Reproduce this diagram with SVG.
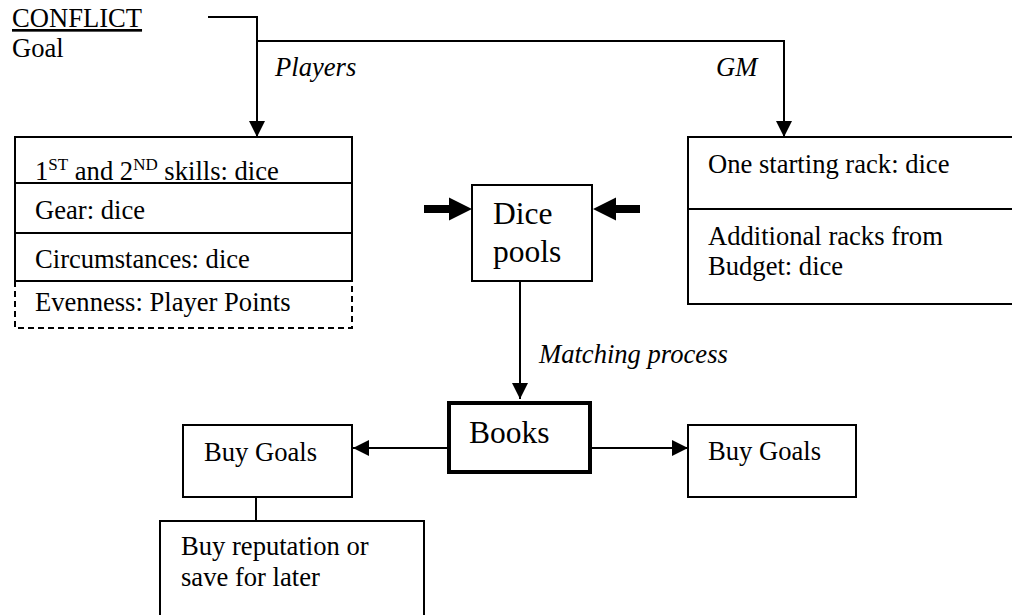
<svg xmlns="http://www.w3.org/2000/svg" width="1012" height="615" viewBox="0 0 1012 615">
<style>
text{font-family:'Liberation Serif','Times New Roman','DejaVu Serif',serif;font-size:26.6px;fill:#000}
.big{font-size:31.5px}
.it{font-style:italic}
.sup{font-size:17px}
.box{fill:#fff;stroke:#000;stroke-width:2}
.ln{fill:none;stroke:#000;stroke-width:2}
.dash{fill:none;stroke:#000;stroke-width:2;stroke-dasharray:6 4}
</style>
<defs>
<marker id="ah" markerUnits="userSpaceOnUse" markerWidth="16" markerHeight="16" viewBox="0 0 14 14" refX="14" refY="7" orient="auto">
<path d="M0,0 L14,7 L0,14 Z" fill="#000"/>
</marker>
</defs>
<g id="connectors">
<polyline class="ln" points="208,17 257,17 257,137" marker-end="url(#ah)"/>
<polyline class="ln" points="257,41 784,41 784,137" marker-end="url(#ah)"/>
<line class="ln" x1="520" y1="281" x2="520" y2="399" marker-end="url(#ah)"/>
<line class="ln" x1="447" y1="448" x2="353" y2="448" marker-end="url(#ah)"/>
<line class="ln" x1="592" y1="448" x2="688" y2="448" marker-end="url(#ah)"/>
<line class="ln" x1="256" y1="497" x2="256" y2="521"/>
<path d="M424,205 L449,205 L449,197.5 L472,209 L449,220.5 L449,213 L424,213 Z" fill="#000"/>
<path d="M640,205 L616,205 L616,197.5 L593,209 L616,220.5 L616,213 L640,213 Z" fill="#000"/>
</g>
<g id="conflict">
<text x="12" y="27" text-decoration="underline">CONFLICT</text>
<text x="12" y="57">Goal</text>
</g>
<g id="labels">
<text class="it" x="275" y="76">Players</text>
<text class="it" x="716" y="76">GM</text>
<text class="it" x="539" y="363">Matching process</text>
</g>
<g id="players-box">
<rect class="box" x="15" y="137" width="337" height="144"/>
<line class="ln" x1="15" y1="183" x2="352" y2="183"/>
<line class="ln" x1="15" y1="233" x2="352" y2="233"/>
<polyline class="dash" points="15,281 15,328 352,328 352,281"/>
<text x="35" y="180">1<tspan class="sup" dy="-10">ST</tspan><tspan dy="10"> and 2</tspan><tspan class="sup" dy="-10">ND</tspan><tspan dy="10"> skills: dice</tspan></text>
<text x="35" y="219">Gear: dice</text>
<text x="35" y="268">Circumstances: dice</text>
<text x="35" y="311">Evenness: Player Points</text>
</g>
<g id="gm-box">
<rect class="box" x="688" y="137" width="340" height="167"/>
<line class="ln" x1="688" y1="209" x2="1028" y2="209"/>
<text x="708" y="173">One starting rack: dice</text>
<text x="708" y="245">Additional racks from</text>
<text x="708" y="275">Budget: dice</text>
</g>
<g id="dice-pools">
<rect class="box" x="472" y="185" width="120" height="96"/>
<text class="big" x="493" y="224">Dice</text>
<text class="big" x="493" y="262">pools</text>
</g>
<g id="books">
<rect x="449" y="403" width="141" height="69" fill="#fff" stroke="#000" stroke-width="4"/>
<text class="big" x="469" y="443">Books</text>
</g>
<g id="buy-goals-left">
<rect class="box" x="183" y="425" width="169" height="72"/>
<text x="204" y="461">Buy Goals</text>
</g>
<g id="buy-goals-right">
<rect class="box" x="688" y="425" width="168" height="72"/>
<text x="708" y="460">Buy Goals</text>
</g>
<g id="buy-reputation">
<rect class="box" x="160" y="521" width="264" height="110"/>
<text x="181" y="555">Buy reputation or</text>
<text x="181" y="586">save for later</text>
</g>
</svg>
